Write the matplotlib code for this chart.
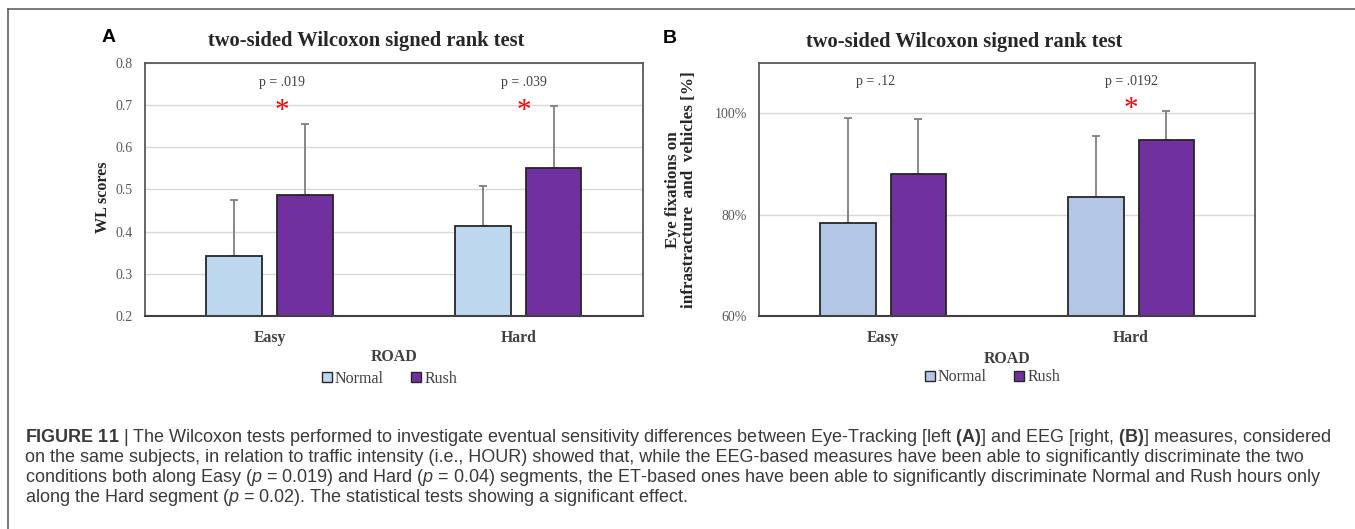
import matplotlib
matplotlib.use('Agg')
import matplotlib.pyplot as plt
from matplotlib.lines import Line2D
from matplotlib.ticker import FuncFormatter, MultipleLocator
import numpy as np

plt.rcParams['font.family'] = ['Liberation Serif', 'DejaVu Serif']
plt.rcParams['mathtext.fontset'] = 'custom'
plt.rcParams['mathtext.rm'] = 'Liberation Sans'
plt.rcParams['mathtext.bf'] = 'Liberation Sans:bold'
plt.rcParams['mathtext.it'] = 'Liberation Sans:italic'

roads = ['Easy', 'Hard']
series = ['Normal', 'Rush']

# panel A: EEG workload scores
wl_normal = [0.343, 0.413]
wl_rush = [0.487, 0.551]
wl_normal_err = [0.132, 0.096]
wl_rush_err = [0.167, 0.146]
wl_pvals = ['p = .019', 'p = .039']
wl_signif = [True, True]

# panel B: eye fixations (%)
et_normal = [78.4, 83.5]
et_rush = [88.1, 94.7]
et_normal_err = [20.6, 12.0]
et_rush_err = [10.8, 5.7]
et_pvals = ['p = .12', 'p = .0192']
et_signif = [False, True]

RUSH_COLOR = '#7030a0'
W, H = 1355, 529

fig = plt.figure(figsize=(W / 100, H / 100), dpi=100)


def px_axes(left, right, top, bottom):
    return fig.add_axes([left / W, 1 - bottom / H, (right - left) / W, (bottom - top) / H])


def draw_panel(ax, normal, rush, nerr, rerr, normal_color, pvals, signif, p_dx, p_y, star_y):
    x = np.arange(len(roads))
    bw, off = 0.224, 0.142
    ax.bar(x - off, normal, bw, color=normal_color, edgecolor='#262626', linewidth=1.3,
           label=series[0], zorder=2)
    ax.bar(x + off, rush, bw, color=RUSH_COLOR, edgecolor='#262626', linewidth=1.3,
           label=series[1], zorder=2)
    ax.errorbar(x - off, normal, yerr=[np.zeros(len(x)), nerr], fmt='none',
                ecolor='#7f7f7f', elinewidth=1.3, capsize=3, capthick=1.3, zorder=1)
    ax.errorbar(x + off, rush, yerr=[np.zeros(len(x)), rerr], fmt='none',
                ecolor='#7f7f7f', elinewidth=1.3, capsize=3, capthick=1.3, zorder=1)
    for i in range(len(roads)):
        ax.text(x[i] + p_dx[i], p_y, pvals[i], ha='center', va='center',
                fontsize=10, color='#404040')
        if signif[i]:
            ax.annotate('*', xy=(x[i] + p_dx[i], star_y), xytext=(0, -6),
                        textcoords='offset points', ha='center', va='center',
                        fontsize=21, color='#ff0000')
    ax.set_xlim(-0.5, len(roads) - 0.5)
    ax.set_xticks(x)
    ax.set_xticklabels(roads, fontsize=11.3, fontweight='bold', color='#404040')
    ax.tick_params(axis='x', length=0, pad=10)
    ax.tick_params(axis='y', length=0, pad=9, labelsize=10, labelcolor='#595959')
    ax.grid(axis='y', color='#d9d9d9', linewidth=1.0)
    ax.set_axisbelow(True)
    for s in ['top', 'right', 'left']:
        ax.spines[s].set_color('#595959')
        ax.spines[s].set_linewidth(1.3)
    ax.spines['bottom'].set_color('#404040')
    ax.spines['bottom'].set_linewidth(1.5)


# ---- panel A ----
axA = px_axes(145, 642.7, 62.6, 316.3)
draw_panel(axA, wl_normal, wl_rush, wl_normal_err, wl_rush_err, '#bdd7ee',
           wl_pvals, wl_signif, [0.049, 0.023], 0.754, 0.705)
axA.set_ylim(0.2, 0.8)
axA.yaxis.set_major_locator(MultipleLocator(0.1))
axA.yaxis.set_major_formatter(FuncFormatter(lambda v, p: f'{v:.1f}'))
axA.set_ylabel('WL scores', fontsize=11.6, fontweight='bold', color='#262626', va='center')
axA.yaxis.set_label_coords(-0.0844, 0.471)
axA.set_xlabel('ROAD', fontsize=11.4, fontweight='bold', color='#404040', va='center')
axA.xaxis.set_label_coords(0.5, -0.1616)
legA = axA.legend(handles=[Line2D([], [], ls='none', marker='s', markersize=7.2,
                                  markerfacecolor='#bdd7ee', markeredgecolor='#262626', markeredgewidth=1),
                           Line2D([], [], ls='none', marker='s', markersize=7.2,
                                  markerfacecolor=RUSH_COLOR, markeredgecolor='#262626', markeredgewidth=1)],
                  labels=series, loc='center left', bbox_to_anchor=(0.3544, -0.247), ncol=2,
                  frameon=False, fontsize=11.5, handlelength=0.7, handletextpad=0.15,
                  columnspacing=1.68, borderpad=0, borderaxespad=0, labelcolor='#404040')

# ---- panel B ----
axB = px_axes(759.3, 1255, 62.6, 316.3)
draw_panel(axB, et_normal, et_rush, et_normal_err, et_rush_err, '#b4c7e7',
           et_pvals, et_signif, [-0.030, 0.001], 106.2, 102.5)
axB.set_ylim(60, 110)
axB.set_yticks([60, 80, 100])
axB.yaxis.set_major_formatter(FuncFormatter(lambda v, p: f'{v:.0f}%'))
axB.set_ylabel('Eye fixations on\ninfrastracture  and  vehicles [%]', fontsize=12.3,
               fontweight='bold', color='#262626', va='center', linespacing=1.05)
axB.yaxis.set_label_coords(-0.158, 0.5)
axB.set_xlabel('ROAD', fontsize=11.4, fontweight='bold', color='#404040', va='center')
axB.xaxis.set_label_coords(0.5, -0.1695)
axB.legend(handles=[Line2D([], [], ls='none', marker='s', markersize=7.2,
                           markerfacecolor='#b4c7e7', markeredgecolor='#262626', markeredgewidth=1),
                    Line2D([], [], ls='none', marker='s', markersize=7.2,
                           markerfacecolor=RUSH_COLOR, markeredgecolor='#262626', markeredgewidth=1)],
           labels=series, loc='center left', bbox_to_anchor=(0.333, -0.240), ncol=2,
           frameon=False, fontsize=11.5, handlelength=0.7, handletextpad=0.15,
           columnspacing=1.68, borderpad=0, borderaxespad=0, labelcolor='#404040')

# titles and panel letters
fig.text(365.7 / W, 1 - 41 / H, 'two-sided Wilcoxon signed rank test', ha='center', va='center',
         fontsize=14.8, fontweight='bold', color='#262626')
fig.text(964.6 / W, 1 - 41.7 / H, 'two-sided Wilcoxon signed rank test', ha='center', va='center',
         fontsize=14.8, fontweight='bold', color='#262626')
fig.text(108.4 / W, 1 - 38 / H, 'A', ha='center', va='center', fontsize=14,
         fontweight='bold', family='Liberation Sans', color='black')
fig.text(669.8 / W, 1 - 38.3 / H, 'B', ha='center', va='center', fontsize=14,
         fontweight='bold', family='Liberation Sans', color='black')

# frame lines of the figure box
fig.add_artist(Line2D([8 / W, 1], [1 - 9 / H, 1 - 9 / H], transform=fig.transFigure,
                      color='#555555', linewidth=1.1))
fig.add_artist(Line2D([8 / W, 8 / W], [0, 1 - 9 / H], transform=fig.transFigure,
                      color='#555555', linewidth=1.1))

# caption
caption = [
    r'$\mathbf{FIGURE\ 11}$ | The Wilcoxon tests performed to investigate eventual sensitivity differences '
    r'between Eye-Tracking [left $\mathbf{(A)}$] and EEG [right, $\mathbf{(B)}$] measures, considered',
    'on the same subjects, in relation to traffic intensity (i.e., HOUR) showed that, while the EEG-based '
    'measures have been able to significantly discriminate the two',
    r'conditions both along Easy ($p$ = 0.019) and Hard ($p$ = 0.04) segments, the ET-based ones have been '
    r'able to significantly discriminate Normal and Rush hours only',
    r'along the Hard segment ($p$ = 0.02). The statistical tests showing a significant effect.',
]
for i, line in enumerate(caption):
    fig.text(25 / W, 1 - (437 + 20.3 * i) / H, line, ha='left', va='center',
             fontsize=13, family='Liberation Sans', color='#3a3a3a')

fig.savefig('out.png', dpi=100)
